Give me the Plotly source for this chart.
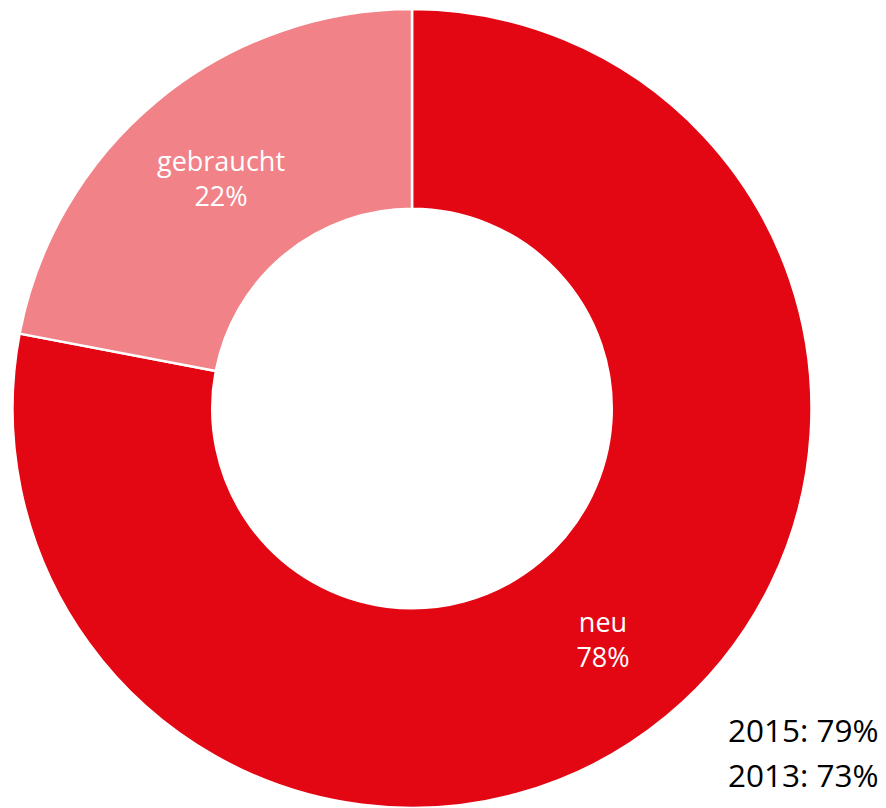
import plotly.graph_objects as go

labels = ["neu", "gebraucht"]
values = [78, 22]
colors = ["#E30613", "#F08288"]
notes = ["2015: 79%", "2013: 73%"]

W, H = 886, 808

fig = go.Figure(go.Pie(
    labels=labels,
    values=values,
    hole=0.5,
    sort=False,
    direction="clockwise",
    rotation=0,
    marker=dict(colors=colors, line=dict(color="white", width=2.5)),
    texttemplate="%{label}<br>%{percent:.0%}",
    textposition="inside",
    insidetextorientation="horizontal",
    textfont=dict(family="Open Sans", size=27, color="white"),
    hoverinfo="label+percent",
    domain=dict(x=[12 / W, 812 / W], y=[0, 1]),
    showlegend=False,
))

note_y = [729, 774]
for txt, py in zip(notes, note_y):
    fig.add_annotation(
        text=txt, x=881 / W, y=1 - py / H, xref="paper", yref="paper",
        xanchor="right", yanchor="middle", showarrow=False,
        font=dict(family="Open Sans", size=31.5, color="black"),
    )

fig.update_layout(
    width=W, height=H,
    margin=dict(l=0, r=0, t=9, b=0),
    paper_bgcolor="white", plot_bgcolor="white",
    uniformtext=dict(minsize=10, mode="show"),
)

fig.write_html(
    "out.html",
    config={"displayModeBar": False},
    post_script="document.body.style.margin='0';document.body.style.overflow='hidden';",
)
